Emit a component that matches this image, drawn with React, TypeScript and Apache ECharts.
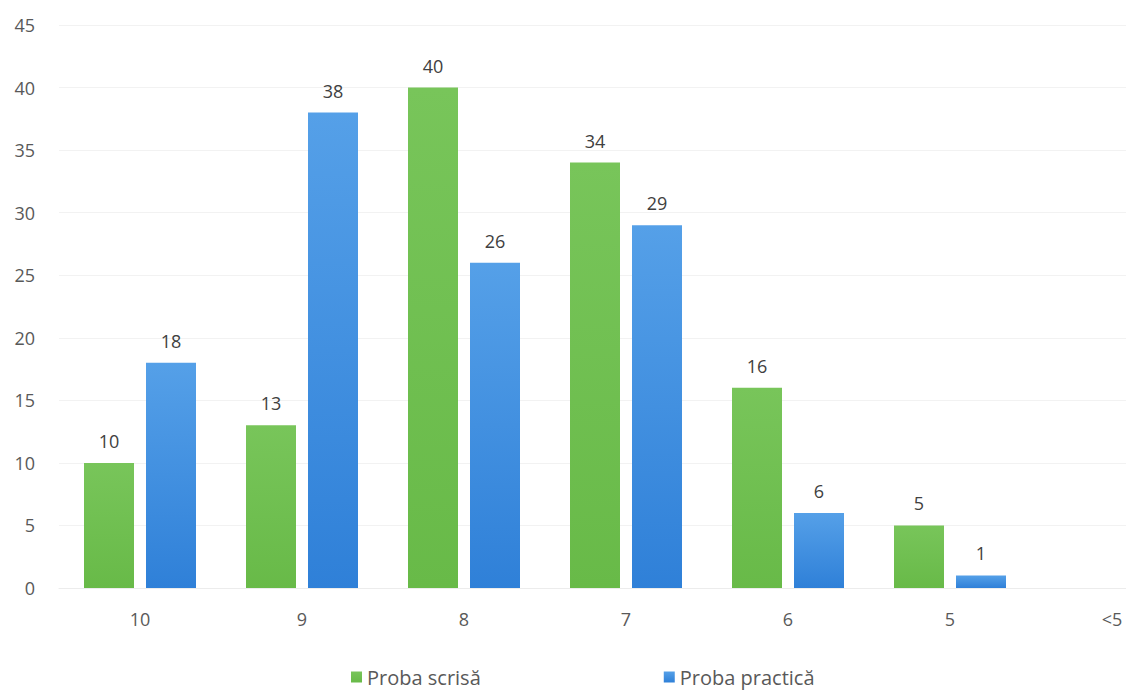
import React, { useEffect, useRef } from "react";
import * as echarts from "echarts";

const categories = ["10", "9", "8", "7", "6", "5", "<5"];
const scrisa = [10, 13, 40, 34, 16, 5, 0];
const practica = [18, 38, 26, 29, 6, 1, 0];
const seriesNames = ["Proba scrisă", "Proba practică"];

export default function App() {
  const ref = useRef<HTMLDivElement>(null);
  useEffect(() => {
    document.body.style.margin = "0";
    const chart = echarts.init(ref.current!, null, { renderer: "svg" });
    const font = "'Open Sans', 'Noto Sans', sans-serif";
    const label = {
      show: true,
      position: "top",
      distance: 13,
      color: "#404040",
      fontSize: 18,
      fontFamily: font,
      formatter: (p: any) => (p.value === 0 ? "" : String(p.value)),
    };
    chart.setOption({
      animation: false,
      backgroundColor: "#ffffff",
      grid: { left: 59, right: 0, top: 25, bottom: 103, containLabel: false },
      legend: {
        left: 346,
        top: 662,
        itemWidth: 11,
        itemHeight: 11,
        itemGap: 183,
        icon: "rect",
        textStyle: { color: "#595959", fontSize: 20, fontFamily: font },
        data: seriesNames,
      },
      xAxis: {
        type: "category",
        data: categories,
        axisLine: { show: true, lineStyle: { color: "#ececec" } },
        axisTick: { show: false },
        axisLabel: { color: "#595959", fontSize: 18, fontFamily: font, margin: 22 },
      },
      yAxis: {
        type: "value",
        min: 0,
        max: 45,
        interval: 5,
        axisLine: { show: false },
        axisTick: { show: false },
        splitLine: { lineStyle: { color: "#f2f2f2" } },
        axisLabel: { color: "#595959", fontSize: 18, fontFamily: font, margin: 24 },
      },
      series: [
        {
          name: seriesNames[0],
          type: "bar",
          data: scrisa,
          barWidth: 50,
          barGap: "24%",
          itemStyle: {
            color: new echarts.graphic.LinearGradient(0, 0, 0, 1, [
              { offset: 0, color: "#78c55a" },
              { offset: 1, color: "#68ba48" },
            ]),
          },
          label,
        },
        {
          name: seriesNames[1],
          type: "bar",
          data: practica,
          barWidth: 50,
          itemStyle: {
            color: new echarts.graphic.LinearGradient(0, 0, 0, 1, [
              { offset: 0, color: "#55a0e8" },
              { offset: 1, color: "#2f80d8" },
            ]),
          },
          label,
        },
      ],
    });
    return () => chart.dispose();
  }, []);
  return (
    <div style={{ width: 1126, height: 691, overflow: "hidden", position: "relative" }}>
      <div ref={ref} style={{ width: 1193, height: 691 }} />
    </div>
  );
}
